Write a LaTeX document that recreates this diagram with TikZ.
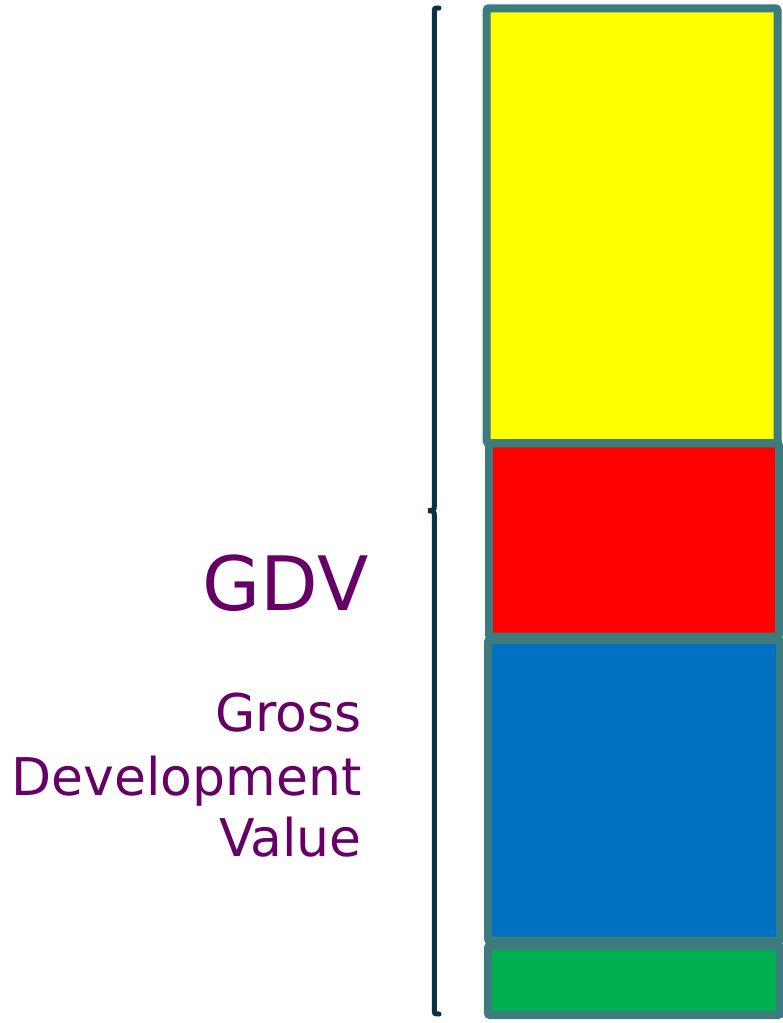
\documentclass[tikz,border=0pt]{standalone}
\usepackage{fontspec}
\setmainfont{DejaVu Sans}
\definecolor{barborder}{RGB}{61,124,126}
\definecolor{bracecol}{RGB}{8,50,70}
\definecolor{txtpurple}{RGB}{102,0,102}
\definecolor{byellow}{RGB}{255,255,0}
\definecolor{bred}{RGB}{255,0,0}
\definecolor{bblue}{RGB}{0,112,192}
\definecolor{bgreen}{RGB}{0,176,80}
\tikzset{
  bar/.style={draw=barborder, line width=8pt, rounded corners=2pt, inner sep=0pt, outer sep=0pt},
  bigtxt/.style={text=txtpurple, inner sep=0pt, anchor=base east, font=\fontsize{75}{75}\selectfont},
  subtxt/.style={text=txtpurple, inner sep=0pt, anchor=base east, font=\fontsize{52}{60}\selectfont},
}
\begin{document}
\begin{tikzpicture}[x=1pt,y=-1pt]
\useasboundingbox (0,0) rectangle (782,1023);
\fill[white] (0,0) rectangle (782,1023);
\node[bar, fill=byellow, minimum width=290.8pt, minimum height=434.7pt] (yellow) at (632.1,225.65) {};
\node[bar, fill=bred, minimum width=290pt, minimum height=193.4pt] (red) at (634,540) {};
\node[bar, fill=bblue, minimum width=292pt, minimum height=300.7pt] (blue) at (634,790.35) {};
\node[bar, fill=bgreen, minimum width=292pt, minimum height=69pt] (green) at (634,980.5) {};
\coordinate (btop) at (439,8);
\coordinate (bmid) at (428,510.7);
\coordinate (bbot) at (439,1014);
\draw[bracecol, line width=5pt, line cap=round]
  (btop) .. controls (434.3,8) .. (434.3,13) -- (434.3,505)
  .. controls (434.3,510.5) .. (bmid)
  .. controls (434.3,511) .. (434.3,516) -- (434.3,1009)
  .. controls (434.3,1014) .. (bbot);
\node[bigtxt] (gdv) at (368.7,610) {GDV};
\node[subtxt] (l1) at (362,731.7) {Gross};
\node[subtxt] (l2) at (362,795) {Development};
\node[subtxt] (l3) at (362,856.7) {Value};
\end{tikzpicture}
\end{document}
